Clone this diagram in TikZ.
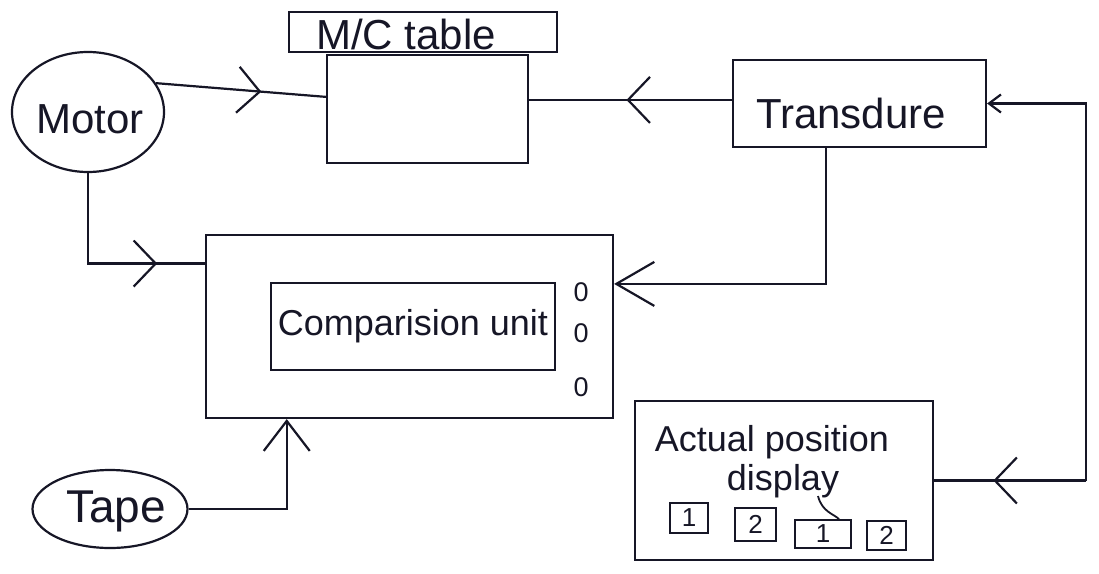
\documentclass[tikz,border=0pt]{standalone}
\usepackage{fontspec}
\setmainfont{Liberation Sans}
\usetikzlibrary{shapes.geometric,arrows.meta,decorations.markings,calc}
\definecolor{inkc}{RGB}{22,22,38}
\begin{document}
\begin{tikzpicture}[x=1pt,y=-1pt,
  every node/.style={inner sep=0pt, text=inkc},
  box/.style={draw=inkc, line width=2.2pt, rectangle},
  smallbox/.style={draw=inkc, line width=1.8pt, rectangle, font=\fontsize{26}{28}\selectfont},
  oval/.style={draw=inkc, line width=2.2pt, ellipse},
  wire/.style={draw=inkc, color=inkc, line width=2.2pt},
  barb/.tip={Straight Barb[length=22pt,width=46pt,line width=2.2pt]},
  bigbarb/.tip={Straight Barb[length=38pt,width=44pt,line width=2.2pt]},
  upbarb/.tip={Straight Barb[length=30pt,width=46pt,line width=2.2pt]},
  smallbarb/.tip={Straight Barb[length=12pt,width=18pt,line width=2.2pt]},
  midbarb/.style={postaction={decorate,decoration={markings,mark=at position #1 with {\arrow{barb}}}}},
  big/.style={font=\fontsize{42}{48}\selectfont},
  mid/.style={font=\fontsize{36}{40}\selectfont},
  dot/.style={font=\fontsize{27}{30}\selectfont}
]
\fill[white] (0,0) rectangle (1099,573);
\useasboundingbox (0,0) rectangle (1099,573);

% nodes
\node[oval, minimum width=152pt, minimum height=120pt] (motor) at (88,112) {};
\node[big] (motortext) at (90,119) {Motor};
\node[box, minimum width=268pt, minimum height=40pt] (mclabel) at (423,32) {};
\node[big] (mctext) at (406,34) {M/C table};
\node[box, minimum width=201pt, minimum height=108pt] (mc) at (427.5,109) {};
\node[box, minimum width=253pt, minimum height=87pt] (tr) at (859.5,103.5) {};
\node[big] (trtext) at (851,113) {Transdure};

\node[box, minimum width=407pt, minimum height=183pt] (cmp) at (409.5,326.5) {};
\node[box, minimum width=284pt, minimum height=87pt, mid] (cu) at (413,326.5) {Comparision unit};
\node[dot] (o1) at (581,292) {0};
\node[dot] (o2) at (581,333) {0};
\node[dot] (o3) at (581,387) {0};

\node[oval, minimum width=155pt, minimum height=78pt] (tape) at (110,509) {};
\node[font=\fontsize{46}{50}\selectfont] (tapetext) at (116,511) {Tape};

\node[box, minimum width=298pt, minimum height=159pt] (disp) at (784,480.5) {};
\node[mid] (dsp1) at (772,442) {Actual position};
\node[mid] (dsp2) at (783,481) {display};
\node[smallbox, minimum width=38pt, minimum height=30pt] (b1) at (689,518) {1};
\node[smallbox, minimum width=41pt, minimum height=33pt] (b2) at (755.5,524.5) {2};
\node[smallbox, minimum width=56pt, minimum height=28pt] (b3) at (823,534) {1};
\node[smallbox, minimum width=39pt, minimum height=29pt] (b4) at (886.5,535.5) {2};
\draw[wire, line width=1.8pt] (818,496) .. controls (822,512) and (834,514) .. ($(b3.north)+(16,0)$);

% connectors
\coordinate (rx) at (1086,0);
\coordinate (trw) at ($(tr.north west)!0.46!(tr.south west)$);
\path[wire, midbarb=0.62] (motor.23) -- ($(mc.north west)!0.39!(mc.south west)$);
\path[wire, midbarb=0.52] (trw) -- (trw -| mc.east);
\path[wire, midbarb=0.77] (motor.south) |- ($(cmp.north west)!0.16!(cmp.south west)$);
\path[wire, -{bigbarb}] ($(tr.south west)!0.37!(tr.south east)$) |- ($(cmp.north east)!0.27!(cmp.south east)$);
\path[wire, -{upbarb}] (tape.east) -| ($(cmp.south west)!0.2!(cmp.south east)$);
\path[wire, -{smallbarb}] (disp.east -| rx) -- (tr.east -| rx) -- (tr.east);
\path[wire, midbarb=0.61] (disp.east -| rx) -- (disp.east);
\end{tikzpicture}
\end{document}
